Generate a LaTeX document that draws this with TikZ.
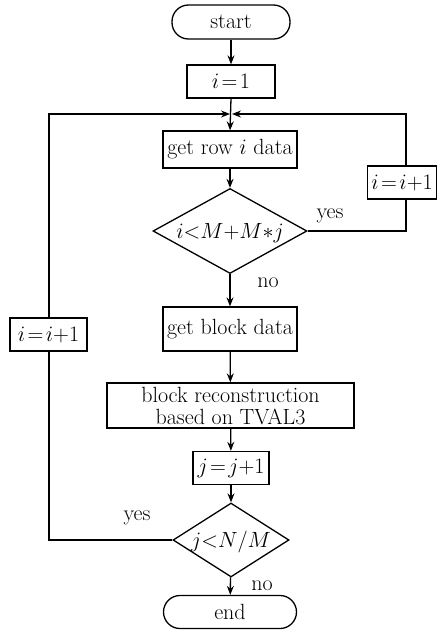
\documentclass[tikz,border=0pt]{standalone}
\usepackage{fix-cm}
\usepackage{fontspec}
\usetikzlibrary{arrows.meta,shapes.geometric}

\tikzset{
  flow/.style       = {line width=1.3pt, -{Stealth[length=9pt, width=7pt, inset=3pt]}},
  link/.style       = {line width=1.3pt},
  procbox/.style    = {draw, line width=1.3pt, rectangle, minimum height=33pt, inner sep=0pt},
  termbox/.style    = {draw, line width=1.3pt, rectangle, rounded corners=16.5pt,
                       minimum height=34pt, inner sep=0pt},
  testbox/.style    = {draw, line width=1.3pt, diamond, inner sep=0pt, text height=0pt, text depth=0pt},
  tag/.style        = {inner sep=0pt}
}
% keeps the diamond at its given size, whatever the text
\newcommand{\testtext}[1]{\makebox[0pt]{\raisebox{-0.35em}{#1}}}

\begin{document}
\begin{tikzpicture}[x=1pt, y=-1pt, font=\fontsize{22}{24}\selectfont]
    \useasboundingbox (0,0) rectangle (439,630);
    % main column
    \node[termbox, minimum width=118pt]                    (start)    at (231, 22)    {start};
    \node[procbox, minimum width=88pt]                     (iinit)    at (231, 81.5)  {$i\!=\!1$};
    \coordinate                                            (merge)    at (231, 114);
    \node[procbox, minimum width=134pt, minimum height=37pt] (getrow) at (230, 149.5) {get row $i$ data};
    \node[testbox, minimum width=154pt, minimum height=85pt] (rowtest) at (230, 231)
                                                           {\testtext{$i{<}M{+}M{*}j$}};
    \node[procbox, minimum width=134pt, minimum height=44pt] (getblock) at (230, 329) {get block data};
    \node[procbox, minimum width=247pt, minimum height=45pt, align=center, text depth=0pt]
                                                           (recon)    at (230.5, 405.5)
                                                           {block reconstruction\\[-2pt]based on TVAL3};
    \node[procbox, minimum width=76pt]                     (jinc)     at (231, 468)   {$j\!=\!j{+}1$};
    \node[testbox, minimum width=116pt, minimum height=74pt] (blocktest) at (231, 540)
                                                           {\testtext{$j{<}N/M$}};
    \node[termbox, minimum width=133pt, minimum height=33pt] (stop)   at (230, 612)   {end};
    % side boxes
    \node[procbox, minimum width=69pt]                     (iincR)    at (402, 182.5) {$i\!=\!i{+}1$};
    \node[procbox, minimum width=77pt]                     (iincL)    at (48.5, 334.5) {$i\!=\!i{+}1$};
    % corners of the loops
    \coordinate (rtop) at (406, 114);
    \coordinate (rbot) at (406, 231);
    \coordinate (ltop) at (49, 114);
    \coordinate (lbot) at (49, 540);

    \draw[flow] (start) -- (iinit);
    \draw[flow] (iinit.south) -- (getrow.north);
    \draw[flow] (getrow) -- (rowtest);
    \draw[flow] (rowtest) -- (getblock);
    \draw[flow] (getblock) -- (recon);
    \draw[flow] (recon) -- (jinc);
    \draw[flow] (jinc) -- (blocktest);
    \draw[flow] (blocktest) -- (stop);
    % inner loop over rows
    \draw[link] (rowtest.east) -- (rbot) -- (rbot |- iincR.south);
    \draw[flow] (rbot |- iincR.north) -- (rtop) -- ([xshift=1pt]merge);
    % outer loop over blocks
    \draw[link] (blocktest.west) -- (lbot) -- (lbot |- iincL.south);
    \draw[flow] (lbot |- iincL.north) -- (ltop) -- ([xshift=-1pt]merge);
    % labels
    \node[tag] (yesrow)   at (330, 216) {yes};
    \node[tag] (norow)    at (268, 283) {no};
    \node[tag] (yesblock) at (137, 518) {yes};
    \node[tag] (noblock)  at (262, 586) {no};
\end{tikzpicture}
\end{document}
